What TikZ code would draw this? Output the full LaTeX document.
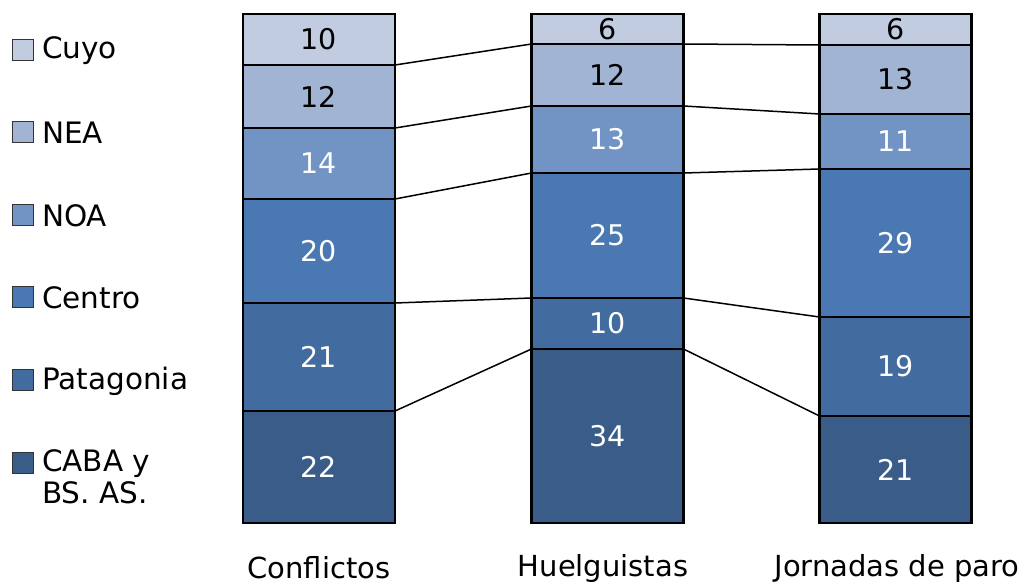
\documentclass[tikz,border=0pt]{standalone}
\usepackage{fontspec}
\setmainfont{DejaVu Sans}
\definecolor{cCuyo}{HTML}{C1CCE0}
\definecolor{cNEA}{HTML}{A2B4D4}
\definecolor{cNOA}{HTML}{7194C4}
\definecolor{cCentro}{HTML}{4A78B2}
\definecolor{cPat}{HTML}{426C9F}
\definecolor{cCABA}{HTML}{3A5C88}
\tikzset{
  seg/.style={draw=black, line width=2.3pt, rectangle, inner sep=0pt, outer sep=0pt, font=\fontsize{28.5}{34}\selectfont},
  conn/.style={draw=black, line width=1.5pt},
  legbox/.style={draw=black!80, line width=1pt, rectangle, minimum width=21pt, minimum height=21pt, inner sep=0pt},
  legtext/.style={anchor=west, inner sep=0pt, font=\fontsize{29.5}{32}\selectfont, align=left},
  cat/.style={inner sep=0pt, font=\fontsize{29}{34}\selectfont}
}
\newcommand{\segm}[7]{%
  \node[seg, fill=#5, text=#6, minimum width=152pt, minimum height={(#4-#3)*1pt}] (#1) at (#2,{(#3+#4)/2}) {#7};}
\begin{document}
\begin{tikzpicture}[x=1pt,y=-1pt]
\fill[white] (0,0) rectangle (1032,585);
\useasboundingbox (0,0) rectangle (1032,585);
% Conflictos
\segm{c1}{319}{14}{65}{cCuyo}{black}{10}
\segm{c2}{319}{65}{128}{cNEA}{black}{12}
\segm{c3}{319}{128}{199}{cNOA}{white}{14}
\segm{c4}{319}{199}{303}{cCentro}{white}{20}
\segm{c5}{319}{303}{411}{cPat}{white}{21}
\segm{c6}{319}{411}{523}{cCABA}{white}{22}
% Huelguistas
\segm{h1}{607.5}{14}{44}{cCuyo}{black}{6}
\segm{h2}{607.5}{44}{106}{cNEA}{black}{12}
\segm{h3}{607.5}{106}{173}{cNOA}{white}{13}
\segm{h4}{607.5}{173}{298}{cCentro}{white}{25}
\segm{h5}{607.5}{298}{349}{cPat}{white}{10}
\segm{h6}{607.5}{349}{523}{cCABA}{white}{34}
% Jornadas
\segm{j1}{895.5}{14}{45}{cCuyo}{black}{6}
\segm{j2}{895.5}{45}{114}{cNEA}{black}{13}
\segm{j3}{895.5}{114}{169}{cNOA}{white}{11}
\segm{j4}{895.5}{169}{317}{cCentro}{white}{29}
\segm{j5}{895.5}{317}{416}{cPat}{white}{19}
\segm{j6}{895.5}{416}{523}{cCABA}{white}{21}
% connectors
\foreach \i in {1,...,5}{
  \draw[conn] (c\i.south east) -- (h\i.south west);
  \draw[conn] (h\i.south east) -- (j\i.south west);
}
% category labels
\node[cat] (lc) at (319,568) {Conflictos};
\node[cat] (lh) at (603,568) {Huelguistas};
\node[cat] (lj) at (897,568) {Jornadas de paro};
% legend
\node[legbox, fill=cCuyo] (k1) at (23,50) {};
\node[legtext] (t1) at (42,51) {Cuyo};
\node[legbox, fill=cNEA] (k2) at (23,132) {};
\node[legtext] (t2) at (42,133) {NEA};
\node[legbox, fill=cNOA] (k3) at (23,215) {};
\node[legtext] (t3) at (42,216) {NOA};
\node[legbox, fill=cCentro] (k4) at (23,297) {};
\node[legtext] (t4) at (42,298) {Centro};
\node[legbox, fill=cPat] (k5) at (23,380) {};
\node[legtext] (t5) at (42,381) {Patagonia};
\node[legbox, fill=cCABA] (k6) at (23,463) {};
\node[legtext, anchor=north west] (t6) at (42,449) {CABA y\\BS. AS.};
\end{tikzpicture}
\end{document}
